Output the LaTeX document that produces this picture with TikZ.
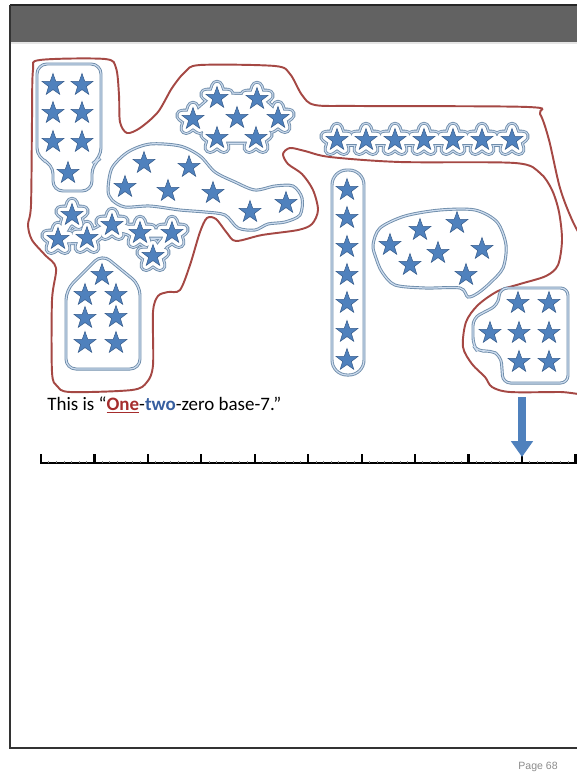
\documentclass[tikz,border=0pt]{standalone}
\usepackage{fontspec}
\setmainfont{Carlito}
\newfontfamily\pagefont{Liberation Sans}
\usepackage{xcolor}
\usetikzlibrary{shapes.geometric,arrows.meta}

\definecolor{starblue}{RGB}{79,129,189}
\definecolor{stardark}{RGB}{56,93,140}
\definecolor{ringdark}{RGB}{110,140,170}
\definecolor{ringlight}{RGB}{205,220,238}
\definecolor{setred}{RGB}{165,72,68}
\definecolor{onered}{RGB}{165,45,45}
\definecolor{twoblue}{RGB}{55,95,160}
\definecolor{headgray}{RGB}{98,98,98}

\begin{document}
\begin{tikzpicture}[
    x=0.02cm, y=-0.02cm,
    bluestar/.style={star, star points=5, star point ratio=2.5, minimum size=0.46cm, inner sep=0pt, fill=starblue, draw=stardark, line width=0.3pt},
    glowstar/.style={star, star points=5, star point ratio=2.5, minimum size=0.46cm, inner sep=0pt, line join=round},
    ring/.style={draw=ringdark, double=ringlight, line width=0.5pt, double distance=0.7pt},
    redset/.style={draw=setred, line width=1.1pt},
    majortick/.style={line width=1.3pt},
    minortick/.style={line width=0.4pt, black!50}
]
\fill[white] (0,0) rectangle (577,778);
\useasboundingbox (0,0) rectangle (577,778);
\clip (0,0) rectangle (577,778);

% Slide frame
\fill[headgray] (10,5) rectangle (577,43);
\draw[black!85, line width=0.8pt] (10,5) -- (577,5);
\draw[white!80!gray, line width=0.6pt] (10,43) -- (577,43);
\draw[black!80, line width=1.1pt] (10,5) -- (10,748) -- (577,748);
\node[font=\pagefont\fontsize{6}{7}\selectfont, text=black!45] (pageno) at (538,767) {Page 68};

% The big set (one group of seven sevens)
\draw[redset] plot[smooth cycle, tension=0.5] coordinates {
  (33,70) (40,60) (105,59) (116,68) (119,95) (120,122) (127,133) (140,128)
  (158,112) (172,88) (185,72) (200,65) (275,66) (290,74) (302,95) (315,105)
  (360,106) (528,107) (540,114) (549,140) (560,188) (573,222) (595,265)
  (610,330) (610,392) (560,392) (510,392) (492,387) (485,377) (472,364)
  (463,347) (466,322) (478,305) (498,291) (520,284) (546,276) (558,265)
  (562,240) (559,212) (552,190) (540,173) (515,163) (400,162) (330,157)
  (305,151) (290,148) (283,154) (288,164) (302,174) (313,190) (318,210)
  (312,224) (298,230) (262,235) (236,241) (227,233) (216,219) (207,218)
  (200,232) (190,265) (180,290) (168,292) (158,296) (153,312) (153,365)
  (147,382) (132,390) (70,392) (57,386) (52,372) (52,300) (56,268) (45,255)
  (32,240) (28,225) (31,205) (32,120)};

% Groups with plain outlines
\draw[ring, rounded corners=0.2cm] (37,64) -- (101,64) -- (101,158) -- (92,164) -- (92,191) -- (53,191) -- (53,164) -- (37,158) -- cycle;
\draw[ring] plot[smooth cycle, tension=0.5] coordinates {
  (108,190) (112,168) (128,152) (150,144) (180,146) (200,156) (215,172)
  (235,182) (255,190) (275,186) (293,186) (302,198) (300,215) (285,222)
  (268,224) (255,230) (238,228) (225,215) (205,212) (180,210) (150,206)
  (125,207) (112,200)};
\draw[ring, rounded corners=0.2cm] (66,290) -- (102,254) -- (140,285) -- (140,369) -- (66,369) -- cycle;
\draw[ring, rounded corners=0.3cm] (332,170) rectangle (364,375);
\draw[ring] plot[smooth cycle, tension=0.5] coordinates {
  (373,245) (380,228) (405,216) (440,210) (475,210) (497,222) (506,245)
  (503,268) (490,283) (478,293) (468,297) (460,288) (425,288) (395,285)
  (382,272) (376,258)};
\draw[ring, rounded corners=0.15cm] (500,288) -- (568,288) -- (568,383) -- (503,383) -- (501,356) -- (490,350) -- (478,352) -- (473,345) -- (473,318) -- (498,305) -- cycle;

% Groups with star-shaped outlines
\foreach \c/\w in {ringdark/7.6pt, ringlight/6.6pt, ringdark/5.2pt, white/4.2pt} {
  \filldraw[draw=\c, fill=\c, line width=\w, line join=round] (217,98) -- (257,99) -- (278,118) -- (256,138) -- (217,138) -- (193,119) -- cycle;
  \foreach \p [count=\i] in {(217,98),(257,99),(193,119),(237,118),(278,118),(217,138),(256,138)}
    \node[glowstar, draw=\c, fill=\c, line width=\w] (bg\i) at \p {};
  \draw[draw=\c, line width=\w, line join=round, line cap=round] (72,215) -- (58,239) -- (87,238) -- (112,225) -- (140,233) -- (172,233) -- (153,256);
  \foreach \p [count=\i] in {(72,215),(58,239),(87,238),(112,225),(140,233),(172,233),(153,256)}
    \node[glowstar, draw=\c, fill=\c, line width=\w] (dg\i) at \p {};
  \draw[draw=\c, line width=\w, line cap=round] (337,140) -- (512,140);
  \foreach \p [count=\i] in {(337,140),(366,140),(395,140),(424,140),(453,140),(482,140),(512,140)}
    \node[glowstar, draw=\c, fill=\c, line width=\w] (fg\i) at \p {};
}

% Stars
\foreach \p [count=\i] in {(53,85),(82,85),(53,113),(82,113),(53,142),(82,142),(68,173)}
  \node[bluestar] (a\i) at \p {};
\foreach \p [count=\i] in {(217,98),(257,99),(193,119),(237,118),(278,118),(217,138),(256,138)}
  \node[bluestar] (b\i) at \p {};
\foreach \p [count=\i] in {(144,163),(189,167),(125,187),(168,191),(213,193),(250,212),(286,203)}
  \node[bluestar] (c\i) at \p {};
\foreach \p [count=\i] in {(72,215),(58,239),(87,238),(112,225),(140,233),(172,233),(153,256)}
  \node[bluestar] (d\i) at \p {};
\foreach \p [count=\i] in {(102,275),(85,295),(116,295),(85,318),(116,317),(85,343),(116,343)}
  \node[bluestar] (e\i) at \p {};
\foreach \p [count=\i] in {(337,140),(366,140),(395,140),(424,140),(453,140),(482,140),(512,140)}
  \node[bluestar] (f\i) at \p {};
\foreach \p [count=\i] in {(347,190),(347,218),(347,247),(347,275),(347,303),(347,332),(347,360)}
  \node[bluestar] (g\i) at \p {};
\foreach \p [count=\i] in {(390,245),(420,230),(457,223),(438,253),(410,265),(482,249),(466,275)}
  \node[bluestar] (h\i) at \p {};
\foreach \p [count=\i] in {(518,303),(549,303),(490,333),(519,333),(549,333),(519,362),(549,362)}
  \node[bluestar] (i\i) at \p {};

% Caption
\node[anchor=base west, inner sep=0pt, font=\fontsize{10.8}{13}\selectfont] (caption) at (47,410)
  {This is “\textcolor{onered}{\underline{\textbf{One}}}-\textcolor{twoblue}{\textbf{two}}-zero base-7.”};

% Number line
\draw[line width=1.3pt] (40,463) -- (580,463);
\foreach \m in {1,...,75}
  \draw[minortick] ({41+53.45*\m/7},463) -- ++(0,-2.5);
\foreach \k in {0,...,10}
  \draw[majortick] ({41+53.45*\k},463.5) -- ++(0,-9.5);
\coordinate (arrowtop) at (522,397);
\coordinate (t63) at (522,457);
\draw[starblue, line width=4.6pt, -{Triangle[width=12pt, length=9pt]}] (arrowtop) -- (t63);

\end{tikzpicture}
\end{document}
